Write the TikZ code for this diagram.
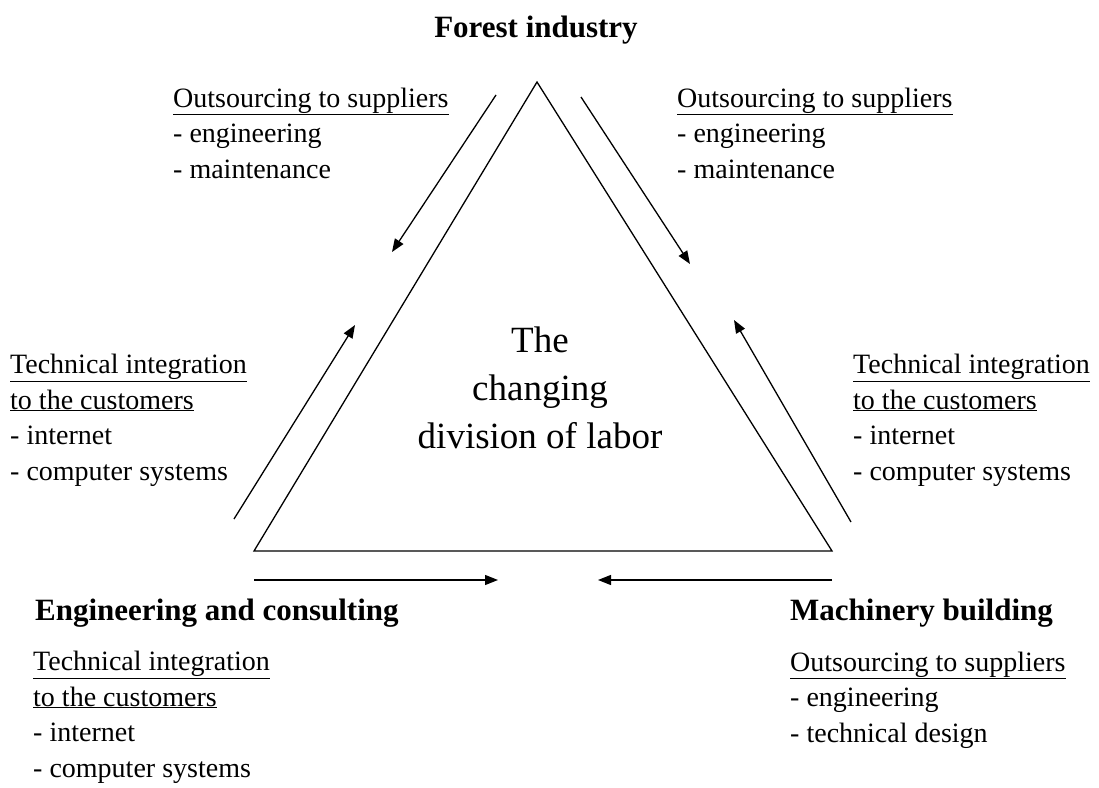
\documentclass[tikz,border=0pt]{standalone}
\usepackage{fontspec}
\setmainfont{Liberation Serif}
\usetikzlibrary{arrows.meta}
\tikzset{
  body/.style={anchor=base west, inner sep=0pt, align=left, font=\fontsize{28}{35.5}\selectfont},
  head/.style={anchor=base west, inner sep=0pt, font=\fontsize{31}{36}\selectfont\bfseries},
  flow/.style={line width=1.3pt, -{Triangle[length=13pt,width=10pt]}},
  tri/.style={line width=1.3pt, line join=miter}
}
\begin{document}
\begin{tikzpicture}[x=1pt,y=-1pt]
\useasboundingbox (0,0) rectangle (1099,787);
% triangle
\coordinate (A) at (537,82);
\coordinate (B) at (254,551);
\coordinate (C) at (832,551);
\draw[tri] (A) -- (B) -- (C) -- cycle;
% arrows
\coordinate (a1s) at (496,95);  \coordinate (a1e) at (392,252);
\coordinate (a2s) at (581,97);  \coordinate (a2e) at (690,264);
\coordinate (a3s) at (234,519); \coordinate (a3e) at (355,325);
\coordinate (a4s) at (851,522); \coordinate (a4e) at (734,320);
\coordinate (a5s) at (254,580); \coordinate (a5e) at (498,580);
\coordinate (a6s) at (832,580); \coordinate (a6e) at (598,580);
\draw[flow] (a1s) -- (a1e);
\draw[flow] (a2s) -- (a2e);
\draw[flow] (a3s) -- (a3e);
\draw[flow] (a4s) -- (a4e);
\draw[flow] (a5s) -- (a5e);
\draw[flow] (a6s) -- (a6e);
% headings
\node[head, anchor=base] (forest) at (536,37) {Forest industry};
\node[head] (eng) at (35,620) {Engineering and consulting};
\node[head] (mach) at (790,620) {Machinery building};
% center (anchored at last baseline)
\node[anchor=base, inner sep=0pt, align=center, font=\fontsize{37}{48}\selectfont] (center) at (540,448) {The\\changing\\division of labor};
% text blocks (anchored at last baseline)
\node[body] (tl) at (173,178) {\underline{Outsourcing to suppliers}\\- engineering\\- maintenance};
\node[body] (tr) at (677,178) {\underline{Outsourcing to suppliers}\\- engineering\\- maintenance};
\node[body] (ml) at (10,480) {\underline{Technical integration}\\\underline{to the customers}\\- internet\\- computer systems};
\node[body] (mr) at (853,480) {\underline{Technical integration}\\\underline{to the customers}\\- internet\\- computer systems};
\node[body] (bl) at (33,777) {\underline{Technical integration}\\\underline{to the customers}\\- internet\\- computer systems};
\node[body] (br) at (790,742) {\underline{Outsourcing to suppliers}\\- engineering\\- technical design};
\end{tikzpicture}
\end{document}
